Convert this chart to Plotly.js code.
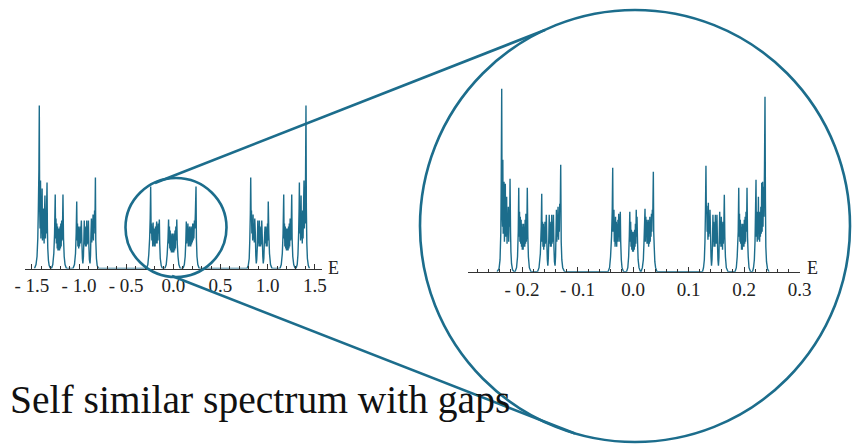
<!DOCTYPE html>
<html><head><meta charset="utf-8">
<script src="https://cdn.plot.ly/plotly-3.0.1.min.js"></script>
<style>html,body{margin:0;padding:0;background:#fff;}#chart{width:854px;height:445px;}</style>
</head><body><div id="chart"></div>
<script>
// ---------- Full spectrum (left panel): energy E and density of states ----------
const mainLeftE = [-1.472,-1.456,-1.445,-1.437,-1.431,-1.425,-1.421,-1.417,-1.413,-1.408,-1.404,-1.400,-1.396,-1.391,-1.387,-1.383,-1.379,-1.374,-1.370,-1.366,-1.361,-1.356,-1.352,-1.348,-1.344,-1.339,-1.335,-1.331,-1.324,-1.316,-1.302,
 -1.292,-1.278,-1.267,-1.259,-1.252,-1.248,-1.244,-1.240,-1.235,-1.231,-1.227,-1.223,-1.218,-1.214,-1.210,-1.206,-1.201,-1.197,-1.193,-1.189,-1.184,-1.180,-1.175,-1.170,-1.164,-1.157,-1.148,-1.133,
 -1.064,-1.048,-1.037,-1.030,-1.024,-1.020,-1.016,-1.012,-1.007,-1.003,-0.999,-0.995,-0.990,-0.986,-0.981,-0.975,-0.969,-0.964,-0.959,-0.953,-0.948,-0.944,-0.940,-0.935,-0.931,-0.927,-0.923,-0.918,-0.914,-0.910,-0.906,-0.900,-0.895,-0.890,-0.883,-0.878,-0.873,-0.868,-0.864,-0.860,-0.856,-0.851,-0.847,-0.843,-0.839,-0.835,-0.830,-0.826,-0.822,-0.815,-0.807,-0.793];
const mainLeftD = [0,4,12,30,60,100,163,60,40,88,30,60,35,80,28,55,30,60,25,55,73,30,50,35,60,86,40,20,8,3,0,
 0,4,15,35,74,30,50,25,45,20,42,18,40,18,40,18,42,20,45,22,48,28,40,74,30,12,4,0,
 0,4,15,35,67,28,45,22,42,20,40,22,42,25,35,48,25,10,5,12,30,48,24,42,22,40,22,48,24,42,25,48,22,9,5,13,35,50,26,45,30,54,28,48,35,58,52,91,28,10,3,0];
const mainCenterE = [-0.284,-0.270,-0.260,-0.251,-0.245,-0.240,-0.235,-0.231,-0.227,-0.223,-0.218,-0.214,-0.210,-0.206,-0.201,-0.197,-0.193,-0.189,-0.185,-0.180,-0.176,-0.172,-0.168,-0.163,-0.159,-0.154,-0.148,-0.144,-0.138,-0.128,-0.115,
 -0.090,-0.075,-0.065,-0.056,-0.050,-0.046,-0.041,-0.037,-0.033,-0.029,-0.024,-0.020,-0.016,-0.012,-0.007,-0.003,0.001,0.005,0.010,0.014,0.018,0.022,0.027,0.032,0.037,0.042,0.050,0.059,0.074,
 0.103,0.117,0.126,0.133,0.138,0.142,0.146,0.151,0.155,0.159,0.163,0.168,0.172,0.176,0.180,0.185,0.189,0.193,0.197,0.201,0.206,0.210,0.214,0.218,0.224,0.229,0.234,0.241,0.245,0.251,0.260,0.275];
const mainCenterD = [0,4,14,30,50,82,35,45,28,42,22,46,24,40,22,40,22,42,25,40,47,25,42,28,45,35,49,25,10,3,0,
 0,4,14,30,49,25,42,20,38,18,35,16,33,16,35,16,33,16,35,18,38,20,42,28,49,25,12,4,0,
 0,4,12,28,47,25,42,28,45,22,40,22,42,24,40,22,42,24,40,26,45,28,45,30,48,40,55,82,30,12,4,0];
const mainRightE = [0.782,0.795,0.805,0.811,0.817,0.821,0.825,0.829,0.833,0.838,0.842,0.846,0.850,0.855,0.859,0.864,0.870,0.875,0.880,0.885,0.891,0.896,0.900,0.905,0.909,0.913,0.917,0.921,0.926,0.930,0.934,0.938,0.944,0.949,0.954,0.960,0.965,0.969,0.973,0.978,0.982,0.986,0.990,0.995,0.999,1.003,1.007,1.013,1.020,1.031,1.047,
 1.131,1.145,1.156,1.164,1.171,1.175,1.179,1.183,1.188,1.192,1.196,1.200,1.205,1.209,1.213,1.217,1.222,1.226,1.230,1.234,1.239,1.244,1.250,1.256,1.260,1.267,1.277,1.293,
 1.301,1.314,1.322,1.329,1.334,1.337,1.341,1.346,1.350,1.355,1.359,1.364,1.368,1.372,1.376,1.381,1.386,1.390,1.394,1.399,1.403,1.407,1.411,1.416,1.422,1.432,1.444];
const mainRightD = [0,3,10,28,55,91,52,58,35,48,28,54,30,45,26,50,35,13,5,9,22,48,25,42,22,48,22,40,22,42,24,48,30,12,5,10,25,35,42,25,42,22,40,22,45,28,67,35,15,4,0,
 0,4,15,35,74,30,45,22,42,20,40,18,40,18,40,18,42,20,45,22,50,28,40,74,30,12,4,0,
 0,4,14,35,60,86,35,55,28,73,30,55,25,58,30,60,88,40,62,45,100,163,60,25,10,3,0];

// ---------- Zoom on the central band (right panel) ----------
const zoomLeftE = [-0.2450,-0.2414,-0.2396,-0.2382,-0.2375,-0.2366,-0.2359,-0.2351,-0.2346,-0.2339,-0.2332,-0.2324,-0.2317,-0.2310,-0.2301,-0.2294,-0.2286,-0.2277,-0.2270,-0.2263,-0.2256,-0.2247,-0.2240,-0.2231,-0.2223,-0.2216,-0.2207,-0.2200,-0.2189,-0.2171,-0.2144,
 -0.2126,-0.2099,-0.2081,-0.2068,-0.2059,-0.2052,-0.2045,-0.2038,-0.2031,-0.2023,-0.2016,-0.2009,-0.2002,-0.1995,-0.1987,-0.1980,-0.1973,-0.1966,-0.1959,-0.1951,-0.1944,-0.1937,-0.1930,-0.1923,-0.1914,-0.1905,-0.1895,-0.1885,-0.1868,-0.1838,
 -0.1721,-0.1694,-0.1670,-0.1654,-0.1645,-0.1638,-0.1631,-0.1623,-0.1616,-0.1609,-0.1602,-0.1595,-0.1587,-0.1580,-0.1571,-0.1562,-0.1553,-0.1544,-0.1535,-0.1526,-0.1517,-0.1510,-0.1503,-0.1495,-0.1488,-0.1481,-0.1474,-0.1465,-0.1458,-0.1450,-0.1443,-0.1434,-0.1425,-0.1416,-0.1405,-0.1396,-0.1387,-0.1380,-0.1373,-0.1366,-0.1359,-0.1351,-0.1342,-0.1335,-0.1328,-0.1321,-0.1312,-0.1303,-0.1294,-0.1283,-0.1267,-0.1234];
const zoomLeftD = [0,3,12,40,90,183,60,45,112,38,70,90,30,60,88,35,55,75,28,50,40,65,30,60,45,93,40,20,8,2,0,
 0,4,15,40,84,35,60,30,55,28,52,25,48,22,45,22,48,25,45,25,52,28,58,30,40,84,35,15,4,0,
 0,4,18,45,78,30,50,25,48,22,45,25,50,28,40,57,30,12,6,14,35,57,28,50,25,48,25,57,28,50,30,57,25,10,6,15,40,62,30,52,35,65,32,55,40,68,60,107,30,12,4,0];
const zoomCenterE = [-0.0450,-0.0423,-0.0405,-0.0387,-0.0375,-0.0366,-0.0359,-0.0351,-0.0344,-0.0337,-0.0330,-0.0323,-0.0315,-0.0308,-0.0301,-0.0294,-0.0286,-0.0279,-0.0272,-0.0265,-0.0258,-0.0250,-0.0243,-0.0236,-0.0229,-0.0222,-0.0211,-0.0198,-0.0171,
 -0.0117,-0.0094,-0.0079,-0.0067,-0.0058,-0.0050,-0.0043,-0.0036,-0.0029,-0.0022,-0.0014,-0.0007,0.0000,0.0007,0.0014,0.0022,0.0029,0.0036,0.0043,0.0050,0.0058,0.0065,0.0072,0.0081,0.0092,0.0108,0.0135,
 0.0144,0.0168,0.0186,0.0198,0.0209,0.0216,0.0223,0.0231,0.0238,0.0245,0.0252,0.0259,0.0267,0.0274,0.0281,0.0288,0.0295,0.0303,0.0310,0.0317,0.0324,0.0332,0.0339,0.0348,0.0357,0.0366,0.0373,0.0382,0.0393,0.0407,0.0432];
const zoomCenterD = [0,4,15,35,60,104,40,55,62,30,50,25,55,28,50,25,48,30,52,35,58,30,55,38,60,30,12,4,0,
 0,4,15,35,60,30,50,25,42,22,40,20,38,20,40,22,42,25,48,28,62,35,55,30,12,4,0,
 0,4,12,30,50,63,30,55,35,52,28,50,28,52,25,50,28,55,30,52,35,58,40,62,60,100,40,25,10,4,0];
const zoomRightE = [0.1252,0.1270,0.1285,0.1296,0.1305,0.1314,0.1321,0.1328,0.1335,0.1342,0.1350,0.1357,0.1364,0.1373,0.1380,0.1387,0.1396,0.1405,0.1414,0.1423,0.1432,0.1440,0.1447,0.1454,0.1461,0.1468,0.1476,0.1483,0.1490,0.1497,0.1505,0.1512,0.1521,0.1530,0.1539,0.1548,0.1555,0.1562,0.1569,0.1577,0.1584,0.1591,0.1598,0.1605,0.1613,0.1620,0.1627,0.1636,0.1645,0.1654,0.1665,0.1681,0.1712,
 0.1838,0.1861,0.1877,0.1895,0.1905,0.1912,0.1919,0.1926,0.1933,0.1941,0.1948,0.1955,0.1962,0.1969,0.1977,0.1984,0.1991,0.1998,0.2005,0.2013,0.2020,0.2027,0.2036,0.2045,0.2054,0.2063,0.2076,0.2090,0.2117,
 0.2153,0.2171,0.2186,0.2198,0.2207,0.2216,0.2223,0.2231,0.2238,0.2245,0.2252,0.2259,0.2267,0.2274,0.2281,0.2288,0.2295,0.2303,0.2310,0.2319,0.2326,0.2335,0.2342,0.2351,0.2360,0.2369,0.2378,0.2386,0.2393,0.2405,0.2423,0.2450];
const zoomRightD = [0,4,12,30,60,106,58,66,40,55,32,69,35,55,38,62,40,15,6,12,28,57,30,50,25,48,25,57,28,50,28,57,30,12,6,14,38,60,28,50,25,55,25,48,22,50,28,45,77,35,15,4,0,
 0,4,15,40,84,35,58,30,52,28,48,22,45,22,48,25,45,25,52,28,55,30,60,40,84,35,15,4,0,
 0,4,12,30,60,92,35,60,30,55,40,75,32,55,30,60,35,65,38,89,40,90,45,85,55,105,175,70,25,10,3,0];

// ---------- Tick labels ----------
const mainTickVals = [-1.5,-1.0,-0.5,0.0,0.5,1.0,1.5];
const mainTickText = ['- 1.5','- 1.0','- 0.5','0.0','0.5','1.0','1.5'];
const zoomTickVals = [-0.2,-0.1,0.0,0.1,0.2,0.3];
const zoomTickText = ['- 0.2','- 0.1','0.0','0.1','0.2','0.3'];
const axisLabel = 'E';
const caption = 'Self similar spectrum with gaps';

// ---------- Build figure ----------
const W = 854, H = 445;
const px = v => v / W;
const py = v => (H - v) / H;
const teal = '#1c6d8c';
const serif = 'Liberation Serif, Times New Roman, serif';

const mainE = [...mainLeftE, ...mainCenterE, ...mainRightE];
const mainD = [...mainLeftD, ...mainCenterD, ...mainRightD];
const zoomE = [...zoomLeftE, ...zoomCenterE, ...zoomRightE];
const zoomD = [...zoomLeftD, ...zoomCenterD, ...zoomRightD];

const traces = [
  {x: mainE, y: mainD, xaxis: 'x', yaxis: 'y', type: 'scatter', mode: 'lines',
   line: {color: teal, width: 1.4, simplify: false}, hoverinfo: 'skip'},
  {x: zoomE, y: zoomD, xaxis: 'x2', yaxis: 'y2', type: 'scatter', mode: 'lines',
   line: {color: teal, width: 1.4, simplify: false}, hoverinfo: 'skip'}
];

const axisBase = {
  showgrid: false, zeroline: false, showline: true, linecolor: '#333', linewidth: 1,
  ticks: 'inside', ticklen: 5, tickwidth: 1, tickcolor: '#333', tickmode: 'array',
  ticklabelstandoff: 0,
  tickfont: {family: serif, size: 19, color: '#222'}, fixedrange: true
};

const layout = {
  width: W, height: H, margin: {l: 0, r: 0, t: 0, b: 0},
  paper_bgcolor: '#ffffff', plot_bgcolor: 'rgba(0,0,0,0)', showlegend: false,
  xaxis: Object.assign({}, axisBase, {
    domain: [px(25), px(321.7)], range: [-1.5726, 1.5737], anchor: 'y',
    tickvals: mainTickVals, ticktext: mainTickText,
    minor: {tickmode: 'linear', tick0: 0, dtick: 0.1, ticks: 'inside', ticklen: 3, tickwidth: 1, tickcolor: '#333'}
  }),
  yaxis: {domain: [py(268.5), py(98.5)], range: [0, 170], visible: false, anchor: 'x', fixedrange: true},
  xaxis2: Object.assign({}, axisBase, {
    domain: [px(468.3), px(799.8)], range: [-0.2968, 0.3005], anchor: 'y2',
    tickvals: zoomTickVals, ticktext: zoomTickText,
    minor: {tickmode: 'linear', tick0: 0, dtick: 0.02, ticks: 'inside', ticklen: 3, tickwidth: 1, tickcolor: '#333'}
  }),
  yaxis2: {domain: [py(271.7), py(81.7)], range: [0, 190], visible: false, anchor: 'x2', fixedrange: true},
  shapes: [
    {type: 'circle', xref: 'paper', yref: 'paper', x0: px(125.5), x1: px(226.5), y0: py(277), y1: py(178), line: {color: teal, width: 2.6}},
    {type: 'circle', xref: 'paper', yref: 'paper', x0: px(420), x1: px(850), y0: py(442), y1: py(10), line: {color: teal, width: 2.6}},
    {type: 'line', xref: 'paper', yref: 'paper', x0: px(155), y0: py(183), x1: px(545), y1: py(30), line: {color: teal, width: 2.6}},
    {type: 'line', xref: 'paper', yref: 'paper', x0: px(172), y0: py(276), x1: px(575), y1: py(433.5), line: {color: teal, width: 2.6}}
  ],
  annotations: [
    {xref: 'paper', yref: 'paper', x: px(326), y: py(267.5), xanchor: 'left', yanchor: 'middle', text: axisLabel, showarrow: false,
     font: {family: serif, size: 18, color: '#222'}},
    {xref: 'paper', yref: 'paper', x: px(805), y: py(267.5), xanchor: 'left', yanchor: 'middle', text: axisLabel, showarrow: false,
     font: {family: serif, size: 18, color: '#222'}},
    {xref: 'paper', yref: 'paper', x: px(8), y: py(400), xanchor: 'left', yanchor: 'middle', text: caption, showarrow: false,
     font: {family: serif, size: 39.5, color: '#111'}}
  ]
};

Plotly.newPlot('chart', traces, layout, {staticPlot: true, displayModeBar: false});
</script>
</body></html>
